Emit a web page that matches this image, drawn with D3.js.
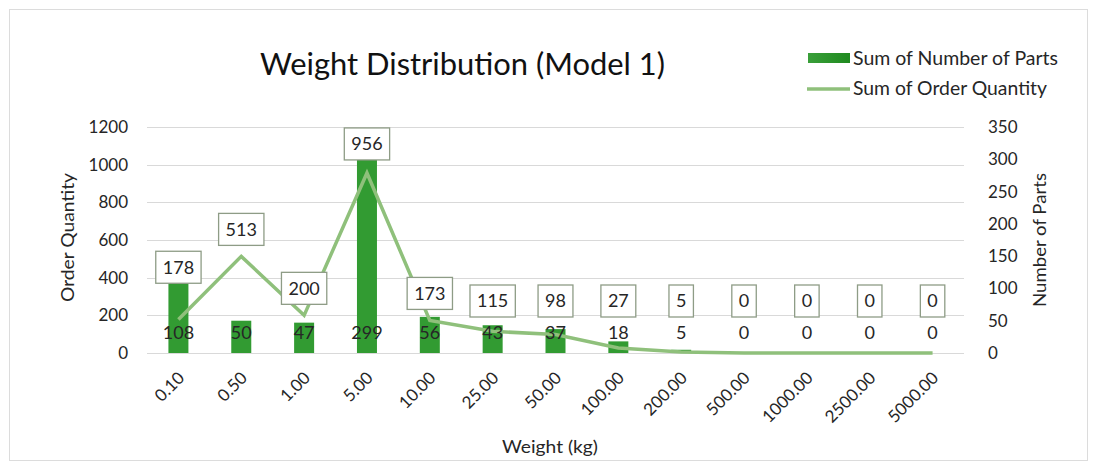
<!DOCTYPE html>
<html>
<head>
<meta charset="utf-8">
<script src="https://cdn.jsdelivr.net/npm/d3@7"></script>
<style>
  html, body { margin: 0; padding: 0; background: #fff; }
  svg { display: block; font-family: Lato, "Open Sans", sans-serif; }
</style>
</head>
<body>
<svg id="chart" width="1102" height="464"></svg>
<script>
// Weight buckets (kg) shown along the category axis
const categories = ["0.10", "0.50", "1.00", "5.00", "10.00", "25.00", "50.00",
                    "100.00", "200.00", "500.00", "1000.00", "2500.00", "5000.00"];
// Sum of Number of Parts per bucket (bars, right axis)
const numberOfParts = [108, 50, 47, 299, 56, 43, 37, 18, 5, 0, 0, 0, 0];
// Sum of Order Quantity per bucket (line, left axis)
const orderQuantity = [178, 513, 200, 956, 173, 115, 98, 27, 5, 0, 0, 0, 0];
// Axis ticks
const leftTicks = [0, 200, 400, 600, 800, 1000, 1200];
const rightTicks = [0, 50, 100, 150, 200, 250, 300, 350];

const BAR_COLOR = "#329b32";
const LINE_COLOR = "#8fc07b";
const TEXT = "#262626";

const svg = d3.select("#chart");

// outer chart frame
svg.append("rect")
  .attr("x", 9.5).attr("y", 9.5).attr("width", 1078).attr("height", 451)
  .attr("fill", "#fff").attr("stroke", "#dcdcdc").attr("stroke-width", 1);

const plotLeft = 147, plotRight = 964, plotTop = 127, plotBottom = 353;

const x = d3.scaleBand().domain(categories).range([plotLeft, plotRight])
  .paddingInner(0).paddingOuter(0);
const yL = d3.scaleLinear().domain([0, 1200]).range([plotBottom, plotTop]);
const yR = d3.scaleLinear().domain([0, 350]).range([plotBottom, plotTop]);
const cx = c => x(c) + x.bandwidth() / 2;

// horizontal gridlines
svg.append("g").selectAll("line").data(leftTicks).join("line")
  .attr("x1", plotLeft).attr("x2", plotRight)
  .attr("y1", d => Math.round(yL(d)) + 0.5).attr("y2", d => Math.round(yL(d)) + 0.5)
  .attr("stroke", "#d9d9d9").attr("stroke-width", 1);

// left axis
const leftAxis = svg.append("g").attr("transform", `translate(${plotLeft},0)`)
  .call(d3.axisLeft(yL).tickValues(leftTicks).tickSize(0).tickPadding(19).tickFormat(d3.format("d")));
leftAxis.select(".domain").remove();
leftAxis.selectAll("text").attr("font-size", 17).attr("fill", TEXT).attr("font-family", "Lato");

// right axis
const rightAxis = svg.append("g").attr("transform", `translate(${plotRight},0)`)
  .call(d3.axisRight(yR).tickValues(rightTicks).tickSize(0).tickPadding(24).tickFormat(d3.format("d")));
rightAxis.select(".domain").remove();
rightAxis.selectAll("text").attr("font-size", 17).attr("fill", TEXT).attr("font-family", "Lato");

// category axis labels, rotated
const bottomAxis = svg.append("g").attr("transform", `translate(0,${plotBottom})`)
  .call(d3.axisBottom(x).tickSize(0).tickPadding(0));
bottomAxis.select(".domain").remove();
bottomAxis.selectAll(".tick text")
  .attr("font-size", 17).attr("fill", TEXT).attr("font-family", "Lato")
  .attr("text-anchor", "end").attr("dy", 0).attr("y", 0)
  .attr("transform", "translate(7,26) rotate(-45)");

// bars
const barW = 20;
svg.append("g").selectAll("rect").data(categories).join("rect")
  .attr("x", (c) => cx(c) - barW / 2)
  .attr("width", barW)
  .attr("y", (c, i) => yR(numberOfParts[i]))
  .attr("height", (c, i) => yR(0) - yR(numberOfParts[i]))
  .attr("fill", BAR_COLOR);

// order quantity line
const line = d3.line().x(d => cx(d.c)).y(d => yL(d.v));
svg.append("path")
  .datum(categories.map((c, i) => ({ c, v: orderQuantity[i] })))
  .attr("d", line)
  .attr("fill", "none").attr("stroke", LINE_COLOR).attr("stroke-width", 3.5)
  .attr("stroke-linejoin", "miter");

// bar value labels at the inside base of each bar
svg.append("g").selectAll("text").data(categories).join("text")
  .attr("x", c => cx(c)).attr("y", yR(0) - 20)
  .attr("dy", "0.35em").attr("text-anchor", "middle")
  .attr("font-size", 18).attr("fill", TEXT)
  .text((c, i) => numberOfParts[i]);

// boxed order quantity labels above the line / bars
const boxH = 32;
const labels = svg.append("g").selectAll("g").data(categories).join("g");
labels.each(function (c, i) {
  const g = d3.select(this);
  const bottom = Math.min(yL(orderQuantity[i]) - 11, yR(numberOfParts[i]), yR(0) - 36);
  const cy = bottom - boxH / 2;
  const t = g.append("text")
    .attr("x", cx(c)).attr("y", cy).attr("dy", "0.35em")
    .attr("text-anchor", "middle").attr("font-size", 18).attr("fill", TEXT)
    .text(orderQuantity[i]);
  const w = t.node().getComputedTextLength() + 14;
  g.insert("rect", "text")
    .attr("x", cx(c) - w / 2).attr("y", bottom - boxH)
    .attr("width", w).attr("height", boxH)
    .attr("fill", "#fff").attr("stroke", "#8e9c86").attr("stroke-width", 1.3);
});

// title
svg.append("text")
  .attr("x", 462.5).attr("y", 75).attr("text-anchor", "middle")
  .attr("font-size", 30).attr("fill", "#111")
  .attr("textLength", 405).attr("lengthAdjust", "spacingAndGlyphs")
  .text("Weight Distribution (Model 1)");

// axis titles
svg.append("text")
  .attr("transform", "translate(74,237.5) rotate(-90)")
  .attr("text-anchor", "middle").attr("font-size", 18).attr("fill", TEXT)
  .attr("textLength", 129).attr("lengthAdjust", "spacingAndGlyphs")
  .text("Order Quantity");
svg.append("text")
  .attr("transform", "translate(1046,240) rotate(-90)")
  .attr("text-anchor", "middle").attr("font-size", 18).attr("fill", TEXT)
  .attr("textLength", 134).attr("lengthAdjust", "spacingAndGlyphs")
  .text("Number of Parts");
svg.append("text")
  .attr("x", 550).attr("y", 453).attr("text-anchor", "middle")
  .attr("font-size", 18).attr("fill", TEXT)
  .attr("textLength", 96).attr("lengthAdjust", "spacingAndGlyphs")
  .text("Weight (kg)");

// legend
const defs = svg.append("defs");
const grad = defs.append("linearGradient").attr("id", "swatch").attr("x1", 0).attr("x2", 1);
grad.append("stop").attr("offset", 0).attr("stop-color", "#3a9f3a");
grad.append("stop").attr("offset", 1).attr("stop-color", "#1f8a1f");
svg.append("rect").attr("x", 808).attr("y", 53).attr("width", 42).attr("height", 10)
  .attr("fill", "url(#swatch)");
svg.append("text").attr("x", 853).attr("y", 65).attr("font-size", 19).attr("fill", TEXT)
  .attr("textLength", 205).attr("lengthAdjust", "spacingAndGlyphs")
  .text("Sum of Number of Parts");
svg.append("line").attr("x1", 807).attr("x2", 850).attr("y1", 89).attr("y2", 89)
  .attr("stroke", LINE_COLOR).attr("stroke-width", 3.5);
svg.append("text").attr("x", 853).attr("y", 95).attr("font-size", 19).attr("fill", TEXT)
  .attr("textLength", 194).attr("lengthAdjust", "spacingAndGlyphs")
  .text("Sum of Order Quantity");
</script>
</body>
</html>
